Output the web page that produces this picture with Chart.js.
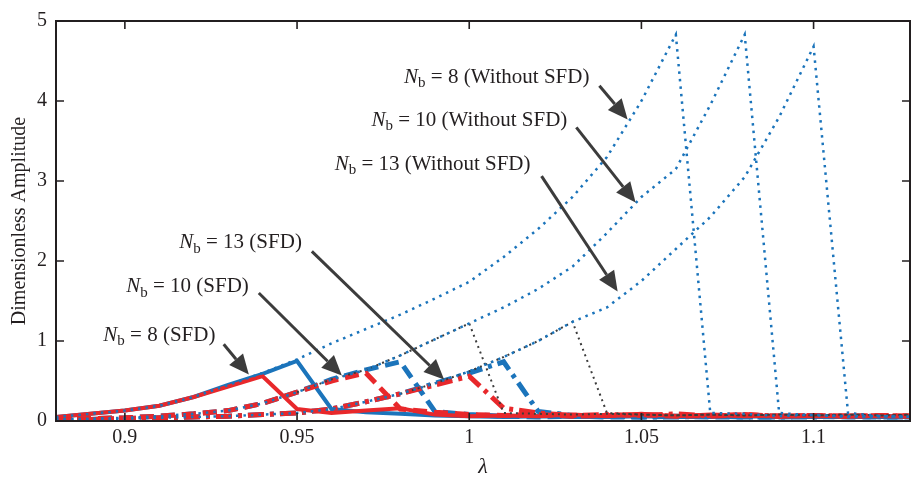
<!DOCTYPE html>
<html>
<head>
<meta charset="utf-8">
<script src="https://cdn.jsdelivr.net/npm/chart.js@4/dist/chart.umd.min.js"></script>
<style>
html, body { margin: 0; padding: 0; background: #fff; }
</style>
</head>
<body>
<canvas id="chartAmplitud" width="911" height="477"></canvas>
<script>
// frequency ratio grid
const lambdas = [0.88,0.89,0.90,0.91,0.92,0.93,0.94,0.95,0.96,0.97,0.98,0.99,1.00,1.01,1.02,1.03,1.04,1.05,1.06,1.07,1.08,1.09,1.10,1.11,1.12,1.13];

// without SFD (blue dotted)
const nb8Libre  = [0.05,0.09,0.13,0.19,0.30,0.45,0.60,0.77,0.97,1.15,1.33,1.53,1.74,2.05,2.40,2.80,3.30,4.00,4.83,0.10,0.09,0.06,0.08,0.05,0.06,0.05];
const nb10Libre = [0.02,0.03,0.04,0.06,0.09,0.13,0.22,0.36,0.52,0.64,0.82,1.02,1.22,1.42,1.65,1.93,2.35,2.80,3.15,3.95,4.83,0.10,0.07,0.06,0.06,0.05];
const nb13Libre = [0.02,0.02,0.03,0.04,0.05,0.06,0.08,0.10,0.15,0.24,0.34,0.47,0.62,0.80,1.00,1.24,1.42,1.75,2.15,2.55,3.05,3.80,4.68,0.10,0.06,0.05];

// dark dotted branches
const grisA = [null,null,null,null,null,null,null,0.36,0.52,0.64,0.82,1.02,1.22,0.10,0.09,0.08,0.09,0.08,0.07,0.08,0.07,0.08,0.07,0.08,0.07,0.08];
const grisB = [null,null,null,null,null,null,null,null,null,null,0.34,0.47,0.62,0.80,1.00,1.24,0.10,0.08,0.07,0.08,0.07,0.08,0.07,0.08,0.07,0.08];

// with SFD, red
const nb8Rojo  = [0.05,0.09,0.13,0.19,0.30,0.43,0.56,0.15,0.10,0.13,0.16,0.08,0.06,0.07,0.06,0.08,0.06,0.09,0.06,0.08,0.06,0.07,0.06,0.07,0.06,0.06];
const nb10Rojo = [0.02,0.03,0.04,0.06,0.09,0.13,0.22,0.36,0.50,0.60,0.15,0.11,0.08,0.07,0.08,0.06,0.07,0.08,0.06,0.07,0.08,0.06,0.07,0.06,0.07,0.06];
const nb13Rojo = [0.02,0.02,0.03,0.04,0.05,0.06,0.08,0.10,0.15,0.24,0.34,0.45,0.56,0.16,0.10,0.07,0.08,0.07,0.09,0.06,0.08,0.06,0.07,0.06,0.07,0.06];

// with SFD, blue
const nb8Azul  = [0.05,0.09,0.13,0.19,0.30,0.45,0.59,0.75,0.15,0.11,0.09,0.07,0.06,0.05,0.06,0.05,0.05,0.06,0.05,0.05,0.06,0.05,0.05,0.05,0.05,0.05];
const nb10Azul = [0.02,0.03,0.04,0.06,0.09,0.13,0.22,0.36,0.52,0.64,0.74,0.12,0.08,0.06,0.05,0.06,0.05,0.05,0.06,0.05,0.05,0.05,0.06,0.05,0.05,0.05];
const nb13Azul = [0.02,0.02,0.03,0.04,0.05,0.06,0.08,0.10,0.15,0.24,0.34,0.47,0.60,0.74,0.12,0.07,0.06,0.05,0.05,0.06,0.05,0.05,0.05,0.06,0.05,0.05];

const xTicks = [0.9, 0.95, 1, 1.05, 1.1];
const yTicks = [0, 1, 2, 3, 4, 5];

// labels: text anchor (right end, middle) and arrow from -> to, in data units
const notas = [
    { n: "8",  tag: "(Without SFD)", at: [1.0349, 4.30], from: [1.0378, 4.19], to: [1.0460, 3.77] },
    { n: "10", tag: "(Without SFD)", at: [1.0285, 3.76], from: [1.0311, 3.67], to: [1.0483, 2.73] },
    { n: "13", tag: "(Without SFD)", at: [1.0178, 3.21], from: [1.0210, 3.06], to: [1.0431, 1.62] },
    { n: "13", tag: "(SFD)", at: [0.9514, 2.23], from: [0.9543, 2.12], to: [0.9927, 0.52] },
    { n: "10", tag: "(SFD)", at: [0.9360, 1.68], from: [0.9389, 1.60], to: [0.9630, 0.57] },
    { n: "8",  tag: "(SFD)", at: [0.9263, 1.07], from: [0.9287, 0.96], to: [0.9360, 0.58] }
];

const AZUL = "#1b74bb";
const ROJO = "#e8282b";
const GRIS = "#3c3c3c";
const SERIF = "'Liberation Serif', 'DejaVu Serif', serif";

function puntos(valores) {
    return lambdas.map((x, i) => ({ x: x, y: valores[i] }));
}

function serie(valores, color, ancho, dash) {
    return {
        data: puntos(valores),
        borderColor: color,
        backgroundColor: color,
        borderWidth: ancho,
        borderDash: dash,
        pointRadius: 0,
        tension: 0,
        fill: false
    };
}

const marcoPlugin = {
    id: "marco",
    afterDatasetsDraw(chart) {
        const { ctx, chartArea: a, scales } = chart;
        ctx.save();
        ctx.strokeStyle = "#231f20";
        ctx.lineWidth = 2;
        ctx.strokeRect(a.left, a.top, a.right - a.left, a.bottom - a.top);
        ctx.lineWidth = 1.6;
        ctx.beginPath();
        xTicks.forEach(v => {
            const px = scales.x.getPixelForValue(v);
            ctx.moveTo(px, a.bottom); ctx.lineTo(px, a.bottom - 8);
            ctx.moveTo(px, a.top); ctx.lineTo(px, a.top + 8);
        });
        yTicks.forEach(v => {
            const py = scales.y.getPixelForValue(v);
            ctx.moveTo(a.left, py); ctx.lineTo(a.left + 8, py);
            ctx.moveTo(a.right, py); ctx.lineTo(a.right - 8, py);
        });
        ctx.stroke();

        // annotations
        notas.forEach(nota => {
            const x = scales.x.getPixelForValue(nota.at[0]);
            const y = scales.y.getPixelForValue(nota.at[1]);
            const resto = " = " + nota.n + " " + nota.tag;
            ctx.fillStyle = "#231f20";
            ctx.textBaseline = "middle";
            ctx.font = "italic 21px " + SERIF;
            const wN = ctx.measureText("N").width;
            ctx.font = "15px " + SERIF;
            const wB = ctx.measureText("b").width;
            ctx.font = "21px " + SERIF;
            const wR = ctx.measureText(resto).width;
            let x0 = x - (wN + wB + wR);
            ctx.font = "italic 21px " + SERIF;
            ctx.fillText("N", x0, y);
            ctx.font = "15px " + SERIF;
            ctx.fillText("b", x0 + wN, y + 6);
            ctx.font = "21px " + SERIF;
            ctx.fillText(resto, x0 + wN + wB, y);

            const x1 = scales.x.getPixelForValue(nota.from[0]);
            const y1 = scales.y.getPixelForValue(nota.from[1]);
            const x2 = scales.x.getPixelForValue(nota.to[0]);
            const y2 = scales.y.getPixelForValue(nota.to[1]);
            const ang = Math.atan2(y2 - y1, x2 - x1);
            const largo = 20, medio = 9;
            const bx = x2 - largo * Math.cos(ang);
            const by = y2 - largo * Math.sin(ang);
            ctx.strokeStyle = GRIS;
            ctx.lineWidth = 3;
            ctx.beginPath();
            ctx.moveTo(x1, y1);
            ctx.lineTo(bx, by);
            ctx.stroke();
            ctx.fillStyle = GRIS;
            ctx.beginPath();
            ctx.moveTo(x2, y2);
            ctx.lineTo(bx + medio * Math.sin(ang), by - medio * Math.cos(ang));
            ctx.lineTo(bx - medio * Math.sin(ang), by + medio * Math.cos(ang));
            ctx.closePath();
            ctx.fill();
        });
        ctx.restore();
    }
};

document.addEventListener("DOMContentLoaded", () => {
    const ctx = document.getElementById("chartAmplitud");

    new Chart(ctx, {
        type: "line",
        data: {
            datasets: [
                serie(nb8Libre, AZUL, 2.5, [2.5, 5]),
                serie(nb10Libre, AZUL, 2.5, [2.5, 5]),
                serie(nb13Libre, AZUL, 2.5, [2.5, 5]),
                serie(grisA, GRIS, 2, [2, 4]),
                serie(grisB, GRIS, 2, [2, 4]),
                serie(nb8Rojo, ROJO, 4, []),
                serie(nb10Rojo, ROJO, 5, [14, 7]),
                serie(nb13Rojo, ROJO, 5, [16, 6, 4, 6]),
                serie(nb8Azul, AZUL, 4, []),
                serie(nb10Azul, AZUL, 5, [14, 7]),
                serie(nb13Azul, AZUL, 5, [16, 6, 4, 6])
            ]
        },
        options: {
            responsive: false,
            animation: false,
            devicePixelRatio: 1,
            layout: { padding: { top: 11, right: 1, left: 0, bottom: 0 } },
            plugins: {
                legend: { display: false },
                tooltip: { enabled: false }
            },
            scales: {
                x: {
                    type: "linear",
                    min: 0.88,
                    max: 1.128,
                    afterFit: s => { s.height = 56; },
                    grid: { display: false, drawTicks: false },
                    border: { display: false },
                    ticks: {
                        stepSize: 0.05,
                        includeBounds: false,
                        padding: 5,
                        color: "#231f20",
                        font: { family: SERIF, size: 20 },
                        callback: v => String(Math.round(v * 100) / 100)
                    },
                    title: {
                        display: true,
                        text: "λ",
                        color: "#231f20",
                        font: { family: SERIF, size: 22, style: "italic" },
                        padding: { top: 0, bottom: -3 }
                    }
                },
                y: {
                    min: 0,
                    max: 5,
                    afterFit: s => { s.width = 56; },
                    grid: { display: false, drawTicks: false },
                    border: { display: false },
                    ticks: {
                        stepSize: 1,
                        padding: 9,
                        color: "#231f20",
                        font: { family: SERIF, size: 20 }
                    },
                    title: {
                        display: true,
                        text: "Dimensionless Amplitude",
                        color: "#231f20",
                        font: { family: SERIF, size: 20 },
                        padding: { top: 8, bottom: 0 }
                    }
                }
            }
        },
        plugins: [marcoPlugin]
    });
});
</script>
</body>
</html>
